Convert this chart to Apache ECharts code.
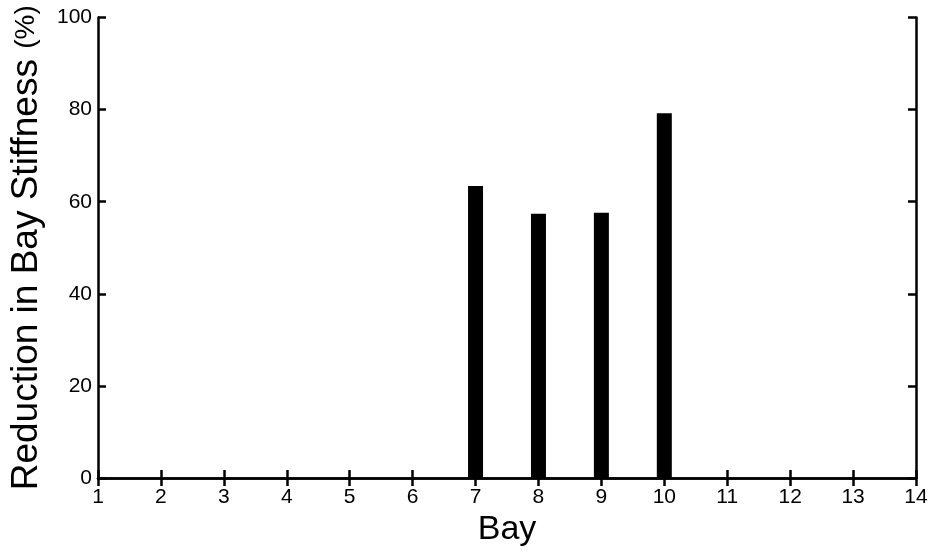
<!DOCTYPE html>
<html>
<head>
<meta charset="utf-8">
<script src="https://cdn.jsdelivr.net/npm/echarts@6/dist/echarts.min.js"></script>
<style>html,body{margin:0;padding:0;background:#fff}#c{width:932px;height:552px}</style>
</head>
<body>
<div id="c"></div>
<script>
const bays = [7, 8, 9, 10];
const reduction = [63.4, 57.4, 57.6, 79.2];
const xTicks = [1,2,3,4,5,6,7,8,9,10,11,12,13,14];
const yTicks = [0,20,40,60,80,100];

const FONT = '"Liberation Sans", Arial, sans-serif';
const lineStyle = {color: '#000', width: 2.5};
const chart = echarts.init(document.getElementById('c'));
const data = bays.map((b, i) => [b, reduction[i]]);

chart.setOption({
  animation: false,
  backgroundColor: '#fff',
  grid: {left: 98, right: 16, top: 17.5, bottom: 70, containLabel: false},
  xAxis: [{
    type: 'value', min: xTicks[0], max: xTicks[xTicks.length-1], interval: 1,
    name: 'Bay', nameLocation: 'middle', nameGap: 30,
    nameTextStyle: {fontFamily: FONT, fontSize: 34, color: '#000'},
    axisLine: {show: true, lineStyle: lineStyle},
    axisTick: {show: true, inside: true, length: 8, lineStyle: lineStyle},
    axisLabel: {fontFamily: FONT, fontSize: 21, color: '#000', margin: 9},
    splitLine: {show: false}
  }, {
    type: 'value', position: 'top', min: xTicks[0], max: xTicks[xTicks.length-1], interval: 1,
    axisLine: {show: true, lineStyle: lineStyle},
    axisTick: {show: true, inside: true, length: 8, lineStyle: lineStyle},
    axisLabel: {show: false}, splitLine: {show: false}
  }],
  yAxis: [{
    type: 'value', min: yTicks[0], max: yTicks[yTicks.length-1], interval: 20,
    name: '{m|Reduction in Bay Stiffness }{p|(%)}', nameLocation: 'middle', nameGap: 53,
    nameTextStyle: {
      fontFamily: FONT, color: '#000',
      rich: {m: {fontFamily: FONT, fontSize: 37, color: '#000'}, p: {fontFamily: FONT, fontSize: 28, color: '#000'}}
    },
    axisLine: {show: true, lineStyle: lineStyle},
    axisTick: {show: true, inside: true, length: 8, lineStyle: lineStyle},
    axisLabel: {fontFamily: FONT, fontSize: 21, color: '#000', margin: 6},
    splitLine: {show: false}
  }, {
    type: 'value', position: 'right', min: yTicks[0], max: yTicks[yTicks.length-1], interval: 20,
    axisLine: {show: true, lineStyle: lineStyle},
    axisTick: {show: true, inside: true, length: 8, lineStyle: lineStyle},
    axisLabel: {show: false}, splitLine: {show: false}
  }],
  series: [{
    type: 'bar', xAxisIndex: 0, yAxisIndex: 0,
    data: data, barWidth: 15,
    itemStyle: {color: '#000'}
  }]
});
</script>
</body>
</html>
